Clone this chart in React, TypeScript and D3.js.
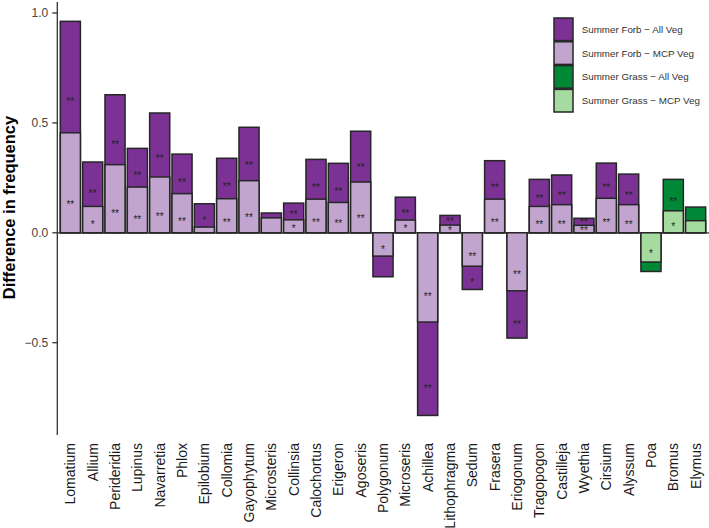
import React from "react";
import * as d3 from "d3";

const categories = ["Lomatium","Allium","Perideridia","Lupinus","Navarretia","Phlox","Epilobium","Collomia","Gayophytum","Microsteris","Collinsia","Calochortus","Erigeron","Agoseris","Polygonum","Microseris","Achillea","Lithophragma","Sedum","Frasera","Eriogonum","Tragopogon","Castilleja","Wyethia","Cirsium","Alyssum","Poa","Bromus","Elymus"];
const allVeg = [0.962,0.322,0.628,0.384,0.545,0.358,0.132,0.339,0.480,0.090,0.135,0.334,0.316,0.462,-0.200,0.162,-0.831,0.079,-0.258,0.328,-0.479,0.243,0.263,0.066,0.317,0.267,-0.176,0.243,0.117];
const mcpVeg = [0.455,0.120,0.310,0.208,0.254,0.178,0.026,0.155,0.237,0.068,0.059,0.153,0.138,0.231,-0.106,0.058,-0.406,0.035,-0.152,0.153,-0.264,0.120,0.128,0.034,0.157,0.128,-0.133,0.100,0.055];
const groups = ["Forb","Forb","Forb","Forb","Forb","Forb","Forb","Forb","Forb","Forb","Forb","Forb","Forb","Forb","Forb","Forb","Forb","Forb","Forb","Forb","Forb","Forb","Forb","Forb","Forb","Forb","Grass","Grass","Grass"];
const allSig = ["**","**","**","**","**","**","*","**","**","","**","**","**","**","","**","**","**","*","**","**","**","**","**","**","**","","**",""];
const mcpSig = ["**","*","**","**","**","**","","**","**","","*","**","**","**","*","*","**","*","**","**","**","**","**","**","**","**","*","*",""];
const yTicks = [-0.5, 0.0, 0.5, 1.0];
const legendLabels = ["Summer Forb \u2212 All Veg","Summer Forb \u2212 MCP Veg","Summer Grass \u2212 All Veg","Summer Grass \u2212 MCP Veg"];
const legendColors = ["#7b3294","#c2a5cf","#008837","#a6dba0"];

const colors: Record<string, { all: string; mcp: string }> = {
  Forb: { all: "#7b3294", mcp: "#c2a5cf" },
  Grass: { all: "#008837", mcp: "#a6dba0" },
};

const FONT = "'Liberation Sans', Arial, Helvetica, sans-serif";

export default function App() {
  const W = 709, H = 528;
  const axisX = 57.3;
  const x = d3.scaleBand<string>().domain(categories).range([59.2, 706.8]).paddingInner(0.1).paddingOuter(0.05);
  const y = d3.scaleLinear().domain([-0.92, 1.05]).range([435, 2]);
  const y0 = y(0);
  const fmt = d3.format(".1f");

  const segs: any[] = [];
  categories.forEach((c, i) => {
    const g = groups[i];
    const a = allVeg[i], m = mcpVeg[i];
    const bx = x(c)!;
    const bw = x.bandwidth();
    const allTop = Math.min(y(a), y(m));
    const allBot = Math.max(y(a), y(m));
    const mTop = Math.min(y(m), y0);
    const mBot = Math.max(y(m), y0);
    segs.push({ key: c, bx, bw, g, allFull: [Math.min(y(a), y0), Math.max(y(a), y0)], allTop, allBot, mTop, mBot, aS: allSig[i], mS: mcpSig[i] });
  });

  const starFs = 10;
  const starY = (top: number, bot: number) => top + 0.72 * (bot - top) + 0.3 * starFs;

  return (
    <svg width={W} height={H} style={{ position: "absolute", left: 0, top: 0, display: "block", background: "#fff" }} fontFamily={FONT}>
      <rect x={0} y={0} width={W} height={H} fill="#fff" />
      <line x1={axisX} x2={W} y1={y0} y2={y0} stroke="#333" strokeWidth={1.3} />
      {segs.map((s) => (
        <g key={s.key}>
          <rect x={s.bx} y={s.allFull[0]} width={s.bw} height={s.allFull[1] - s.allFull[0]} fill={colors[s.g].all} stroke="#262626" strokeWidth={1.5} />
          <rect x={s.bx} y={s.mTop} width={s.bw} height={s.mBot - s.mTop} fill={colors[s.g].mcp} stroke="#262626" strokeWidth={1.5} />
          {s.aS && (
            <text x={s.bx + s.bw / 2} y={starY(s.allTop, s.allBot)} textAnchor="middle" fontSize={starFs} fill="#222">{s.aS}</text>
          )}
          {s.mS && (
            <text x={s.bx + s.bw / 2} y={starY(s.mTop, s.mBot)} textAnchor="middle" fontSize={starFs} fill="#222">{s.mS}</text>
          )}
        </g>
      ))}
      <line x1={axisX} x2={axisX} y1={2} y2={435} stroke="#333" strokeWidth={1.3} />
      {yTicks.map((t) => (
        <g key={t}>
          <line x1={axisX - 5} x2={axisX} y1={y(t)} y2={y(t)} stroke="#333" strokeWidth={1.3} />
          <text x={axisX - 9} y={y(t)} dy="0.36em" textAnchor="end" fontSize={12} fill="#444">{t < 0 ? "\u2212" + fmt(-t) : fmt(t)}</text>
        </g>
      ))}
      <text transform={`translate(14.5,207.5) rotate(-90)`} textAnchor="middle" fontSize={16.5} fontWeight="bold" fill="#000">Difference in frequency</text>
      {categories.map((c) => (
        <text key={c} transform={`translate(${x(c)! + x.bandwidth() / 2},443) rotate(-90)`} textAnchor="end" dy="0.35em" fontSize={14} fill="#1a1a1a">{c}</text>
      ))}
      {legendLabels.map((l, i) => (
        <g key={l}>
          <rect x={554} y={18 + i * 23.8} width={19} height={22.6} fill={legendColors[i]} stroke="#262626" strokeWidth={1.5} />
          <text x={581.7} y={18 + i * 23.8 + 11.3} dy="0.35em" fontSize={9.8} fill="#333">{l}</text>
        </g>
      ))}
    </svg>
  );
}
